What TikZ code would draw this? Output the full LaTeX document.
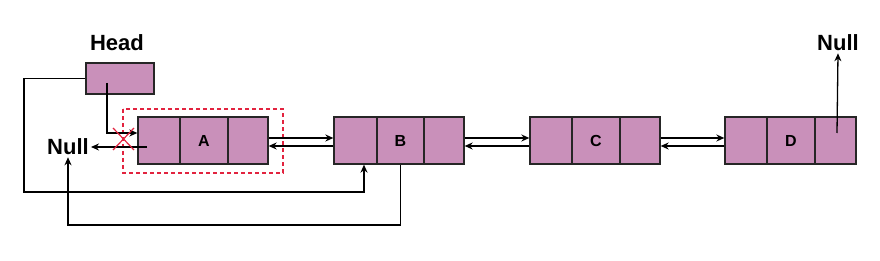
\documentclass[tikz,border=0pt]{standalone}
\usepackage{fontspec}
\setmainfont{Liberation Sans}
\usetikzlibrary{arrows.meta}

\definecolor{cellpink}{HTML}{C990BA}
\definecolor{delred}{HTML}{E2233F}

\tikzset{
  cell/.style={draw=black!85, fill=cellpink, line width=1.3pt, inner sep=0pt,
    minimum height=47pt, font=\fontsize{16}{18}\selectfont\bfseries},
  lbl/.style={font=\fontsize{22}{24}\selectfont\bfseries, inner sep=2pt},
  arr/.style={line width=1.3pt, -{Stealth[length=8pt,width=7pt]}},
}

\begin{document}
\begin{tikzpicture}[x=1pt,y=-1pt]

\useasboundingbox (0,0) rectangle (880,261);

% head pointer
\node[lbl] (headtxt) at (117,43) {Head};
\node[cell, minimum width=68pt, minimum height=31pt] (head) at (120,78.5) {};

% node A
\node[cell, minimum width=42pt] (a1) at (159,140.5) {};
\node[cell, minimum width=48pt] (a2) at (204,140.5) {A};
\node[cell, minimum width=40pt] (a3) at (248,140.5) {};

% node B
\node[cell, minimum width=43pt] (b1) at (355.5,140.5) {};
\node[cell, minimum width=47pt] (b2) at (400.5,140.5) {B};
\node[cell, minimum width=40pt] (b3) at (444,140.5) {};

% node C
\node[cell, minimum width=42pt] (c1) at (551,140.5) {};
\node[cell, minimum width=48pt] (c2) at (596,140.5) {C};
\node[cell, minimum width=40pt] (c3) at (640,140.5) {};

% node D
\node[cell, minimum width=42pt] (d1) at (746,140.5) {};
\node[cell, minimum width=48pt] (d2) at (791,140.5) {D};
\node[cell, minimum width=41pt] (d3) at (835.5,140.5) {};

% deleted node
\draw[delred, line width=1.3pt, dash pattern=on 4pt off 3pt] (123,109) rectangle (283,173);

\node[lbl] (nullA) at (68,147) {Null};
\node[lbl] (nullD) at (838,43) {Null};

% links
\coordinate (hp) at (107,83);
\draw[arr] (hp) |- ([yshift=7.5pt]a1.west);
\coordinate (ap) at (147,147);
\draw[arr] (ap) -- (nullA.east);
\draw[delred, line width=1.2pt] (113,128) -- (134,150);
\draw[delred, line width=1.2pt] (113,150) -- (134,128);

\draw[arr] ([yshift=2.5pt]a3.east) -- ([yshift=2.5pt]b1.west);
\draw[arr] ([yshift=-5.5pt]b1.west) -- ([yshift=-5.5pt]a3.east);
\draw[arr] ([yshift=2.5pt]b3.east) -- ([yshift=2.5pt]c1.west);
\draw[arr] ([yshift=-5.5pt]c1.west) -- ([yshift=-5.5pt]b3.east);
\draw[arr] ([yshift=2.5pt]c3.east) -- ([yshift=2.5pt]d1.west);
\draw[arr] ([yshift=-5.5pt]d1.west) -- ([yshift=-5.5pt]c3.east);

\draw[arr] (head.west) -| (24,192) -| ([xshift=8.5pt]b1.south);
\draw[arr] (b2.south) -- (400.5,225) -| (nullA.south);
\draw[arr] ([xshift=1.5pt,yshift=7.5pt]d3.center) -- (nullD.south);

\end{tikzpicture}
\end{document}
